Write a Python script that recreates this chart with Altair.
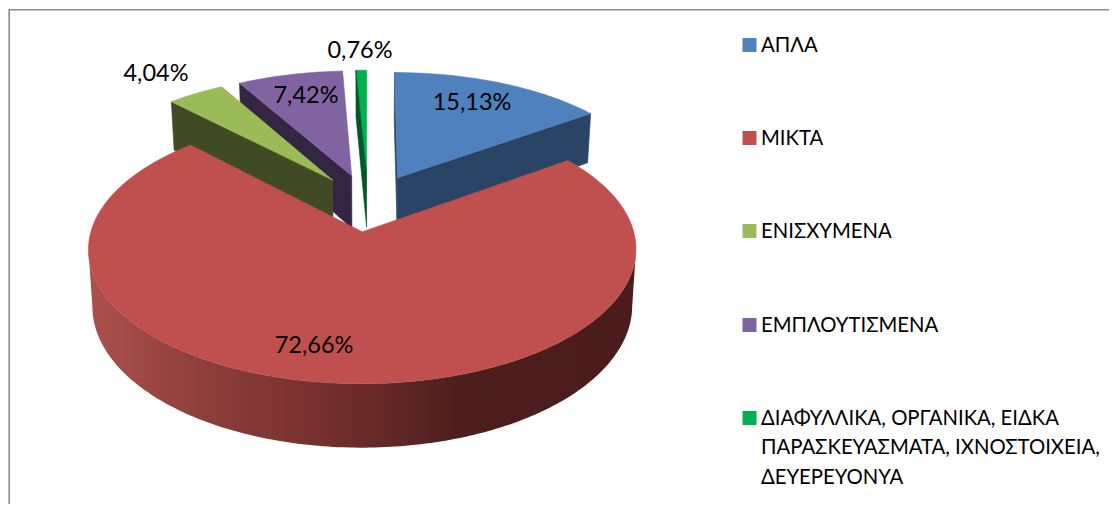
import altair as alt
import numpy as np
import pandas as pd

alt.data_transformers.disable_max_rows()

# ---- values
categories = ["ΑΠΛΑ", "ΜΙΚΤΑ", "ΕΝΙΣΧΥΜΕΝΑ", "ΕΜΠΛΟΥΤΙΣΜΕΝΑ",
              "ΔΙΑΦΥΛΛΙΚΑ, ΟΡΓΑΝΙΚΑ, ΕΙΔΚΑ"]
legend_extra = ["ΠΑΡΑΣΚΕΥΑΣΜΑΤΑ, ΙΧΝΟΣΤΟΙΧΕΙΑ,", "ΔΕΥΕΡΕΥΟΝΥΑ"]
shares = [15.13, 72.66, 4.04, 7.42, 0.76]
share_labels = ["15,13%", "72,66%", "4,04%", "7,42%", "0,76%"]
top_colors = ["#4f81bd", "#c0504d", "#9bbb59", "#8064a2", "#00b050"]
wall_colors = ["#2a4465", "#4a1c1c", "#404b24", "#342543", "#00582a"]

# ---- label / legend placement
label_x = [472, 314, 156, 306, 360]
label_y = [103, 346, 74, 96, 51]
legend_y = [45, 138, 231, 325, 418]
legend_text_y = [46, 139, 232, 326, 419]
legend_extra_y = [448, 478]

FONT = "Lato"
CX, CY, RX, RY, K, DEPTH, EXPL = 368.0, 202.5, 263.5, 124.4, 0.127, 54.0, 0.23
SHIFT = [2.5, 0.0, 0.0, 0.0, 0.0]

total = sum(shares)
fracs = np.array(shares) / total
ends = np.cumsum(fracs) * 2 * np.pi
starts = ends - fracs * 2 * np.pi
mids = (starts + ends) / 2


def project(u, v, w=0.0, dx=0.0):
    s = 1 / (1 + K * v)
    x = CX + RX * u * s * (1 - 0.014 * w) + dx
    y = CY - RY * v * s + DEPTH * w * s
    return x, y


def rim(i, w=0.0):
    a, b = starts[i], ends[i]
    t = np.linspace(a, b, max(4, int((b - a) * 60)))
    ox, oy = EXPL * np.sin(mids[i]), EXPL * np.cos(mids[i])
    return [project(ox + np.sin(q), oy + np.cos(q), w, SHIFT[i]) for q in t]


def apex(i, w=0.0):
    return project(EXPL * np.sin(mids[i]), EXPL * np.cos(mids[i]), w, SHIFT[i])


def radial_wall(i, ang):
    ox, oy = EXPL * np.sin(mids[i]), EXPL * np.cos(mids[i])
    u, v = ox + np.sin(ang), oy + np.cos(ang)
    return [project(u, v, 0, SHIFT[i]), apex(i), apex(i, 1), project(u, v, 1, SHIFT[i])]


XS = alt.Scale(domain=[8, 1109], nice=False, zero=False)
YS = alt.Scale(domain=[504, 8], nice=False, zero=False)


def poly(points, fill):
    df = pd.DataFrame(points + [points[0]], columns=["x", "y"])
    df["o"] = range(len(df))
    return alt.Chart(df).mark_line(filled=True, fill=fill, stroke=fill if isinstance(fill, str) else "transparent",
                                   strokeWidth=0.6, interpolate="linear").encode(
        x=alt.X("x:Q", scale=XS, axis=None),
        y=alt.Y("y:Q", scale=YS, axis=None),
        order="o:Q",
    )


layers = []
# back slices: walls then tops
for i in [3, 2]:
    layers.append(poly(radial_wall(i, starts[i]), wall_colors[i]))
    layers.append(poly([apex(i)] + rim(i), top_colors[i]))
i = 4
layers.append(poly([apex(i)] + rim(i), top_colors[i]))
layers.append(poly(radial_wall(i, starts[i]), wall_colors[i]))
i = 0
layers.append(poly(radial_wall(i, ends[i]), wall_colors[i]))
layers.append(poly(radial_wall(i, starts[i]), wall_colors[i]))
layers.append(poly([apex(i)] + rim(i), top_colors[i]))

# front slice: curved wall between its two silhouette points, then top
i = 1
grad = alt.Gradient(
    gradient="linear", x1=0, x2=1, y1=0, y2=0,
    stops=[
        alt.GradientStop(color="#ab504d", offset=0),
        alt.GradientStop(color="#8f3f3c", offset=0.2),
        alt.GradientStop(color="#6b2a29", offset=0.5),
        alt.GradientStop(color="#4c1e1e", offset=0.68),
        alt.GradientStop(color="#4a1c1c", offset=1),
    ],
)
r0, r1 = rim(i, 0), rim(i, 1)
i0a = int(np.argmax([p[0] for p in r0]))
i0b = int(np.argmin([p[0] for p in r0]))
i1a = int(np.argmax([p[0] for p in r1]))
i1b = int(np.argmin([p[0] for p in r1]))
wall_pts = r0[i0a:i0b + 1] + r1[i1a:i1b + 1][::-1]
layers.append(poly(wall_pts, grad))
layers.append(poly([apex(i)] + r0, top_colors[i]))

# data labels
lab = pd.DataFrame({"x": label_x, "y": label_y, "t": share_labels})
layers.append(alt.Chart(lab).mark_text(font=FONT, fontSize=23.5, color="#000000", align="center", baseline="middle").encode(
    x=alt.X("x:Q", scale=XS, axis=None), y=alt.Y("y:Q", scale=YS, axis=None), text="t:N"))

# legend
leg = pd.DataFrame({"x": [749.5] * 5, "y": legend_y, "c": top_colors})
layers.append(alt.Chart(leg).mark_square(size=196, filled=True, opacity=1).encode(
    x=alt.X("x:Q", scale=XS, axis=None), y=alt.Y("y:Q", scale=YS, axis=None),
    color=alt.Color("c:N", scale=None, legend=None)))
leg2 = pd.DataFrame({"x": [761] * 7, "y": legend_text_y + legend_extra_y, "t": categories + legend_extra})
layers.append(alt.Chart(leg2).mark_text(font=FONT, fontSize=20.3, color="#000000", align="left", baseline="middle").encode(
    x=alt.X("x:Q", scale=XS, axis=None), y=alt.Y("y:Q", scale=YS, axis=None), text="t:N"))

# chart border
border = pd.DataFrame({"x": [9.2, 9.2, 1109], "y": [504, 9.8, 9.8], "o": [0, 1, 2]})
layers.append(alt.Chart(border).mark_line(color="#8c8c8c", strokeWidth=1.6).encode(
    x=alt.X("x:Q", scale=XS, axis=None), y=alt.Y("y:Q", scale=YS, axis=None), order="o:Q"))

chart = alt.layer(*layers).properties(
    width=1101, height=496, padding=0, autosize=alt.AutoSizeParams(type="none"),
    background="#ffffff",
).configure_view(strokeWidth=0)

chart.save("out.html", embed_options={"renderer": "svg", "actions": False})
